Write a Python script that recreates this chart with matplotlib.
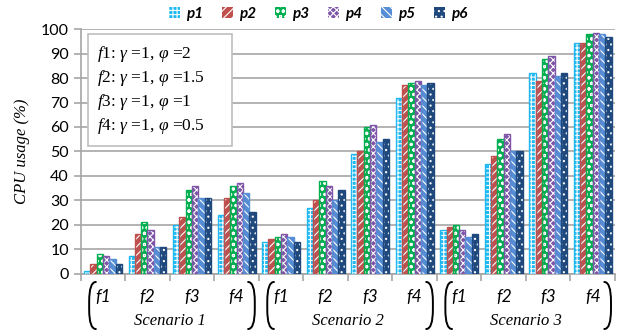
import matplotlib
matplotlib.use("Agg")
import matplotlib.pyplot as plt
import numpy as np
from matplotlib.path import Path
from matplotlib.patches import PathPatch, Rectangle, Patch
from matplotlib.transforms import blended_transform_factory

plt.rcParams['mathtext.fontset'] = 'custom'
plt.rcParams['mathtext.rm'] = 'Liberation Serif'
plt.rcParams['mathtext.it'] = 'Liberation Serif:italic'
plt.rcParams['hatch.linewidth'] = 0.8

scenarios = ["Scenario 1", "Scenario 2", "Scenario 3"]
functions = ["f1", "f2", "f3", "f4"]
series = ["p1", "p2", "p3", "p4", "p5", "p6"]

p1 = [1, 7, 20, 24, 13, 27, 49, 72, 18, 45, 82, 94.5]
p2 = [4, 16, 23, 31, 14, 30, 50, 77, 19, 48, 79, 94.5]
p3 = [8, 21, 34, 36, 15, 38, 60, 78, 20, 55, 88, 98]
p4 = [7, 18, 36, 37, 16, 36, 61, 79, 18, 57, 89, 98.5]
p5 = [6, 11, 31, 33, 15, 30, 54, 77, 15, 50, 81, 98]
p6 = [4, 11, 31, 25, 13, 34, 55, 78, 16, 50, 82, 97]
values = [p1, p2, p3, p4, p5, p6]

legend_lines = [
    r"$\mathit{f1}$: $\mathit{\gamma}$ =1, $\mathit{\varphi}$ =2",
    r"$\mathit{f2}$: $\mathit{\gamma}$ =1, $\mathit{\varphi}$ =1.5",
    r"$\mathit{f3}$: $\mathit{\gamma}$ =1, $\mathit{\varphi}$ =1",
    r"$\mathit{f4}$: $\mathit{\gamma}$ =1, $\mathit{\varphi}$ =0.5",
]

colors = ["#1FB8F0", "#C0504D", "#00B050", "#7F55A8", "#558ED5", "#1F497D"]
hatches = ["++++", "////", "ooo", "xxxxx", "\\\\\\\\", "..."]

W, H = 625, 334
fig = plt.figure(figsize=(W / 100, H / 100), dpi=100)
ax_l, ax_r, ax_t, ax_b = 80.7, 615, 29.3, 273.5
ax = fig.add_axes([ax_l / W, 1 - ax_b / H, (ax_r - ax_l) / W, (ax_b - ax_t) / H])

n_cat = len(scenarios) * len(functions)
x = np.arange(n_cat)
bw = 0.142
for j, (vals, c, h) in enumerate(zip(values, colors, hatches)):
    xs = x + (j - 2.5) * bw
    ax.bar(xs, vals, bw, color=c, edgecolor="white", hatch=h, linewidth=0, zorder=3)
    ax.bar(xs, vals, bw, fill=False, edgecolor=c, linewidth=1.0, zorder=4)

ax.set_xlim(-0.5, n_cat - 0.5)
ax.set_ylim(0, 100)
ax.set_yticks(np.arange(0, 101, 10))
ax.yaxis.grid(True, color="#A6A6A6", linewidth=1.2, zorder=0)
ax.set_axisbelow(True)
for s in ["top", "right"]:
    ax.spines[s].set_visible(False)
for s in ["left", "bottom"]:
    ax.spines[s].set_color("#A6A6A6")
    ax.spines[s].set_linewidth(1.2)
ax.tick_params(axis="y", colors="#A6A6A6", length=5, width=1.2, labelcolor="black",
               labelsize=11.5)
for lab in ax.get_yticklabels():
    lab.set_family("Lato")

ax.set_xticks(np.arange(-0.5, n_cat, 1.0), minor=True)
ax.set_xticks(x)
ax.set_xticklabels(functions * len(scenarios), family="Lato",
                   style="italic", fontsize=12.5)
ax.tick_params(axis="x", which="major", length=0, pad=11)
ax.tick_params(axis="x", which="minor", length=5, width=1.2, colors="#A6A6A6")

ax.set_ylabel("CPU usage (%)", family="Liberation Serif", style="italic",
              fontsize=12, labelpad=8)

trans = blended_transform_factory(ax.transData, ax.transAxes)
ah = ax_b - ax_t
y_top = (ax_b - 282) / ah
y_bot = (ax_b - 329) / ah
pw = 0.15
for k, name in enumerate(scenarios):
    start = k * len(functions)
    xl = start - 0.31
    xr = start + 3.41
    for xo, sgn in [(xl, 1), (xr, -1)]:
        verts = [(xo + sgn * pw, y_top), (xo, y_top), (xo, y_top - 0.08),
                 (xo, y_bot + 0.08),
                 (xo, y_bot), (xo + sgn * pw, y_bot)]
        codes = [Path.MOVETO, Path.CURVE3, Path.CURVE3, Path.LINETO,
                 Path.CURVE3, Path.CURVE3]
        ax.add_patch(PathPatch(Path(verts, codes), transform=trans, fill=False,
                               lw=1.4, color="black", clip_on=False,
                               capstyle="round"))
    ax.text(start + 1.5, (ax_b - 321) / ah, name, transform=trans,
            family="Liberation Serif", style="italic", fontsize=12,
            ha="center", va="center")

# Function definition box
bx0, bx1, by0, by1 = 88, 232, 34, 146
fig.patches.append(Rectangle((bx0 / W, 1 - by1 / H), (bx1 - bx0) / W, (by1 - by0) / H,
                             transform=fig.transFigure, facecolor="white",
                             edgecolor="#BFBFBF", linewidth=1.2, zorder=10))
for i, line in enumerate(legend_lines):
    yy = 53.5 + i * 24
    fig.text(97 / W, 1 - yy / H, line, family="Liberation Serif", fontsize=12.5,
             ha="left", va="center", zorder=11)

handles = [Patch(facecolor=c, edgecolor="white", hatch=h, linewidth=0)
           for c, h in zip(colors, hatches)]
fig.legend(handles, series, loc="center", bbox_to_anchor=(318 / W, 1 - 14 / H),
           ncol=6, frameon=False, handlelength=0.75, handleheight=0.75,
           handletextpad=0.35, columnspacing=1.25,
           prop={"family": "Lato", "style": "italic", "weight": "bold", "size": 11})

fig.savefig("out.png", dpi=100)
